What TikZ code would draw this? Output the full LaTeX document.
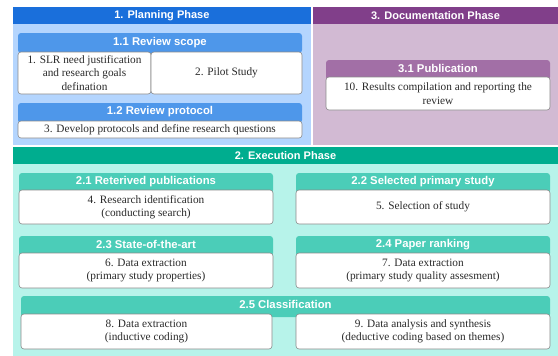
\documentclass[tikz,border=0pt]{standalone}
\usepackage{fontspec}
\setmainfont{Liberation Serif}
\newfontfamily\hdfont{Liberation Sans}
\definecolor{pblue}{HTML}{1A6FDB}
\definecolor{pbluebg}{HTML}{B4D5FE}
\definecolor{pbluesub}{HTML}{4E97EA}
\definecolor{ppur}{HTML}{813F8A}
\definecolor{ppurbg}{HTML}{D2BAD3}
\definecolor{ppursub}{HTML}{A26FA6}
\definecolor{pteal}{HTML}{00AD8F}
\definecolor{ptealbg}{HTML}{B7F3EA}
\definecolor{ptealsub}{HTML}{4BCDB8}
\definecolor{boxline}{HTML}{8A8A8A}
\definecolor{txt}{HTML}{2A2A2A}
\begin{document}
\begin{tikzpicture}[x=1pt,y=-1pt,
  every node/.style={inner sep=0pt,outer sep=0pt,anchor=north west},
  phasehead/.style={draw=none,text=white,font=\hdfont\bfseries\fontsize{11}{13}\selectfont},
  panel/.style={draw=none},
  subhead/.style={draw=none,rounded corners=3pt},
  subtext/.style={anchor=center,text=white,font=\hdfont\bfseries\fontsize{11.3}{13}\selectfont},
  stepbox/.style={draw=boxline,line width=0.6pt,fill=white,rounded corners=3pt,text=txt,align=center,font=\fontsize{11.3}{13.3}\selectfont}
]
\useasboundingbox (0,0) rectangle (558,356);
\fill[white] (0,0) rectangle (558,356);
% Planning phase
\node[phasehead,fill=pblue,minimum width=297.7pt,minimum height=17pt] (ph1) at (13,7) {1. Planning Phase};
\node[panel,fill=pbluebg,minimum width=297.7pt,minimum height=121pt] (pn1) at (13,24) {};
\node[subhead,fill=pbluesub,minimum width=284pt,minimum height=20pt] (s11) at (18,33) {};
\node[subtext] (s11t) at (160,42.5) {1.1 Review scope};
\node[stepbox,minimum width=133pt,minimum height=42pt] (b1) at (18,52) {1. SLR need justification\\and research goals\\defination};
\node[stepbox,minimum width=151pt,minimum height=42pt] (b2) at (151,52) {2. Pilot Study};
\node[subhead,fill=pbluesub,minimum width=284pt,minimum height=20pt] (s12) at (18,103) {};
\node[subtext] (s12t) at (160,111.5) {1.2 Review protocol};
\node[stepbox,minimum width=284pt,minimum height=17pt] (b3) at (18,121) {3. Develop protocols and define research questions};
% Documentation phase
\node[phasehead,fill=ppur,minimum width=246pt,minimum height=17pt] (ph3) at (312.5,7) {3. Documentation Phase};
\node[panel,fill=ppurbg,minimum width=246pt,minimum height=121pt] (pn3) at (312.5,24) {};
\node[subhead,fill=ppursub,minimum width=224pt,minimum height=20pt] (s31) at (326,60) {};
\node[subtext] (s31t) at (438,68.5) {3.1 Publication};
\node[stepbox,minimum width=224pt,minimum height=33pt] (b10) at (326,77) {10. Results compilation and reporting the\\review};
% Execution phase
\node[phasehead,fill=pteal,minimum width=545pt,minimum height=17pt] (ph2) at (13,147) {2. Execution Phase};
\node[panel,fill=ptealbg,minimum width=545pt,minimum height=192pt] (pn2) at (13,164) {};
% 2.1
\node[subhead,fill=ptealsub,minimum width=254pt,minimum height=20pt] (s21) at (19,173) {};
\node[subtext] (s21t) at (146,181.5) {2.1 Reterived publications};
\node[stepbox,minimum width=254pt,minimum height=34pt] (b4) at (19,190) {4. Research identification\\(conducting search)};
% 2.2
\node[subhead,fill=ptealsub,minimum width=254pt,minimum height=20pt] (s22) at (296,173) {};
\node[subtext] (s22t) at (423,181.5) {2.2 Selected primary study};
\node[stepbox,minimum width=254pt,minimum height=34pt] (b5) at (296,190) {5. Selection of study};
% 2.3
\node[subhead,fill=ptealsub,minimum width=254pt,minimum height=20pt] (s23) at (19,236) {};
\node[subtext] (s23t) at (146,244.5) {2.3 State-of-the-art};
\node[stepbox,minimum width=254pt,minimum height=35pt] (b6) at (19,253) {6. Data extraction\\(primary study properties)};
% 2.4
\node[subhead,fill=ptealsub,minimum width=254pt,minimum height=20pt] (s24) at (296,236) {};
\node[subtext] (s24t) at (423,244.5) {2.4 Paper ranking};
\node[stepbox,minimum width=254pt,minimum height=35pt] (b7) at (296,253) {7. Data extraction\\(primary study quality assesment)};
% 2.5
\node[subhead,fill=ptealsub,minimum width=529pt,minimum height=21pt] (s25) at (21,296) {};
\node[subtext] (s25t) at (285.5,304.5) {2.5 Classification};
\node[stepbox,minimum width=251pt,minimum height=35pt] (b8) at (21,314) {8. Data extraction\\(inductive coding)};
\node[stepbox,minimum width=254pt,minimum height=35pt] (b9) at (296,314) {9. Data analysis and synthesis\\(deductive coding based on themes)};
\end{tikzpicture}
\end{document}
